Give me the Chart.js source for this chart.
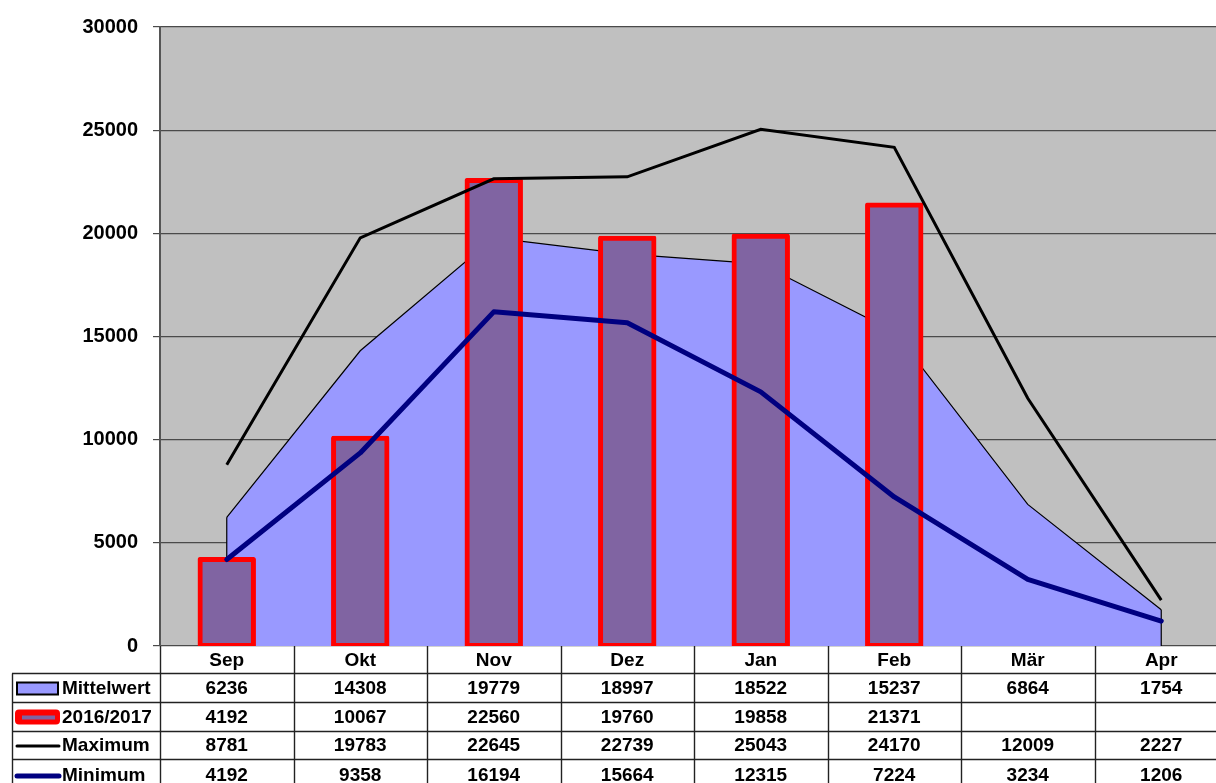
<!DOCTYPE html>
<html>
<head>
<meta charset="utf-8">
<script src="https://cdn.jsdelivr.net/npm/chart.js@4.4.1/dist/chart.umd.min.js"></script>
<style>
  html, body { margin: 0; padding: 0; background: #fff; overflow: hidden; }
  #wrap { position: relative; width: 1228px; height: 783px; }
</style>
</head>
<body>
<div id="wrap"><canvas id="c"></canvas></div>
<script>
const categories = ['Sep', 'Okt', 'Nov', 'Dez', 'Jan', 'Feb', 'Mär', 'Apr'];
const mittelwert = [6236, 14308, 19779, 18997, 18522, 15237, 6864, 1754];
const saison = [4192, 10067, 22560, 19760, 19858, 21371, null, null];
const maximum = [8781, 19783, 22645, 22739, 25043, 24170, 12009, 2227];
const minimum = [4192, 9358, 16194, 15664, 12315, 7224, 3234, 1206];
const seriesNames = ['Mittelwert', '2016/2017', 'Maximum', 'Minimum'];
const yTicks = [0, 5000, 10000, 15000, 20000, 25000, 30000];

const FONT = '"Liberation Sans", Arial, sans-serif';

const tablePlugin = {
  id: 'dataTable',
  beforeDraw(chart) {
    const { ctx, chartArea } = chart;
    ctx.save();
    ctx.fillStyle = '#C0C0C0';
    ctx.fillRect(chartArea.left, chartArea.top, chartArea.right - chartArea.left, chartArea.bottom - chartArea.top);
    ctx.restore();
  },
  afterDatasetDraw(chart, args) {
    if (args.index !== 0) return;
    const { ctx } = chart;
    const meta = chart.getDatasetMeta(0);
    const pts = meta.data;
    const y0 = chart.scales.y.getPixelForValue(0);
    ctx.save();
    ctx.strokeStyle = '#000';
    ctx.lineWidth = 1.2;
    [pts[0], pts[pts.length - 1]].forEach(p => {
      ctx.beginPath();
      ctx.moveTo(p.x, p.y);
      ctx.lineTo(p.x, y0);
      ctx.stroke();
    });
    ctx.restore();
  },
  afterDraw(chart) {
    const { ctx, chartArea } = chart;
    const xs = chart.scales.x;
    const n = categories.length;
    const cw = (chartArea.right - chartArea.left) / n;
    const top = chartArea.bottom;
    const rowsY = [top, top + 27, top + 56, top + 85, top + 113, top + 145];
    const leftX = 12;
    const bottom = 783;
    ctx.save();
    ctx.strokeStyle = '#222';
    ctx.lineWidth = 1.4;
    for (let i = 0; i <= n; i++) {
      const x = Math.round(chartArea.left + i * cw) + 0.5;
      ctx.beginPath();
      ctx.moveTo(x, top);
      ctx.lineTo(x, bottom);
      ctx.stroke();
    }
    for (let r = 1; r <= 4; r++) {
      const y = Math.round(rowsY[r]) + 0.5;
      ctx.beginPath();
      ctx.moveTo(leftX, y);
      ctx.lineTo(chartArea.right, y);
      ctx.stroke();
    }
    ctx.beginPath();
    ctx.moveTo(leftX + 0.5, Math.round(rowsY[1]) + 0.5);
    ctx.lineTo(leftX + 0.5, bottom);
    ctx.stroke();

    ctx.fillStyle = '#000';
    ctx.font = 'bold 19px ' + FONT;
    ctx.textAlign = 'center';
    ctx.textBaseline = 'middle';
    categories.forEach((c, i) => {
      ctx.fillText(c, xs.getPixelForValue(i), (rowsY[0] + rowsY[1]) / 2 + 1);
    });
    const rows = [mittelwert, saison, maximum, minimum];
    rows.forEach((arr, r) => {
      const cy = (rowsY[r + 1] + rowsY[r + 2]) / 2 + 1;
      arr.forEach((v, i) => {
        if (v !== null && v !== undefined) ctx.fillText(String(v), xs.getPixelForValue(i), cy);
      });
      ctx.save();
      if (r === 0) {
        ctx.fillStyle = '#9999FF';
        ctx.fillRect(17, cy - 6, 41, 12);
        ctx.strokeStyle = '#000';
        ctx.lineWidth = 2;
        ctx.strokeRect(17, cy - 6, 41, 12);
      } else if (r === 1) {
        ctx.fillStyle = '#FF0000';
        ctx.beginPath();
        ctx.roundRect(15, cy - 8, 45, 15, 4);
        ctx.fill();
        ctx.fillStyle = '#8064A2';
        ctx.fillRect(22, cy - 2, 33, 4);
      } else if (r === 2) {
        ctx.strokeStyle = '#000';
        ctx.lineWidth = 3;
        ctx.lineCap = 'round';
        ctx.beginPath();
        ctx.moveTo(17, cy);
        ctx.lineTo(59, cy);
        ctx.stroke();
      } else {
        ctx.strokeStyle = '#000080';
        ctx.lineWidth = 5;
        ctx.lineCap = 'round';
        ctx.beginPath();
        ctx.moveTo(17, cy);
        ctx.lineTo(59, cy);
        ctx.stroke();
      }
      ctx.restore();
      ctx.textAlign = 'left';
      ctx.fillText(seriesNames[r], 62, cy);
      ctx.textAlign = 'center';
    });
    ctx.restore();
  }
};

new Chart(document.getElementById('c'), {
  data: {
    labels: categories,
    datasets: [
      {
        type: 'line', label: seriesNames[0], data: mittelwert, order: 4,
        backgroundColor: '#9999FF', borderColor: '#000', borderWidth: 1.2,
        fill: 'origin', pointRadius: 0, tension: 0
      },
      {
        type: 'bar', label: seriesNames[1], data: saison, order: 3,
        backgroundColor: '#8064A2', borderColor: '#FF0000', borderWidth: 5,
        borderSkipped: false, inflateAmount: 2.5, borderRadius: 2,
        categoryPercentage: 1, barPercentage: 0.4
      },
      {
        type: 'line', label: seriesNames[2], data: maximum, order: 2,
        borderColor: '#000', borderWidth: 3, pointRadius: 0, tension: 0, fill: false
      },
      {
        type: 'line', label: seriesNames[3], data: minimum, order: 1,
        borderColor: '#000080', borderWidth: 5, pointRadius: 0, tension: 0, fill: false,
        borderCapStyle: 'round', borderJoinStyle: 'round'
      }
    ]
  },
  options: {
    responsive: true,
    maintainAspectRatio: false,
    animation: false,
    layout: { padding: { top: 25, bottom: 137, left: 0, right: 0 } },
    plugins: { legend: { display: false }, tooltip: { enabled: false } },
    scales: {
      x: {
        display: false,
        offset: true
      },
      y: {
        min: 0, max: 30000,
        afterFit(s) { s.width = 160; },
        afterBuildTicks(s) { s.ticks = yTicks.map(v => ({ value: v })); },
        ticks: {
          color: '#000', padding: 15,
          font: { family: FONT, size: 20, weight: 'bold' },
          callback: (v) => String(v)
        },
        grid: { color: '#4a4a4a', lineWidth: 1.2, tickLength: 7, drawTicks: true },
        border: { color: '#555', width: 2 }
      }
    }
  },
  plugins: [tablePlugin]
});
</script>
</body>
</html>
